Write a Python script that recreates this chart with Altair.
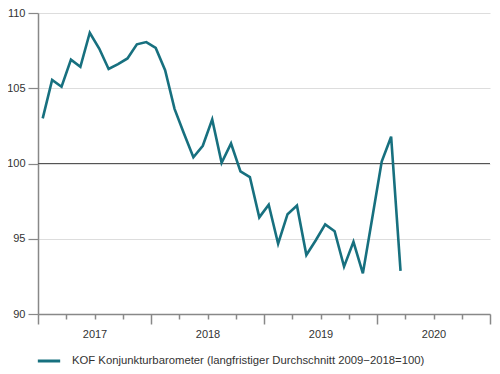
import altair as alt
import pandas as pd

months = pd.date_range("2017-01-01", "2020-03-01", freq="MS").strftime("%Y-%m").tolist()
values = [103.0, 105.55, 105.1, 106.9, 106.43, 108.69, 107.64, 106.28, 106.6, 106.98,
          107.92, 108.07, 107.68, 106.2, 103.63, 101.99, 100.41, 101.18, 102.93, 100.04,
          101.33, 99.47, 99.1, 96.42, 97.26, 94.67, 96.63, 97.2, 93.92, 94.9,
          95.95, 95.5, 93.15, 94.8, 92.7, 96.4, 100.13, 101.78, 92.87]
series_name = "KOF Konjunkturbarometer (langfristiger Durchschnitt 2009\u22122018=100)"
y_ticks = [90, 95, 100, 105, 110]
first_year = 2017
n_years = 4
reference_level = [100]

df = pd.DataFrame({"month": months, "value": values})
df["t"] = [(int(m[:4]) - first_year) * 12 + int(m[5:]) - 1 + 0.5 for m in months]
df["series"] = series_name

quarters = list(range(0, n_years * 12 + 1, 3))
font = "Liberation Sans"
txt = "#333333"
teal = "#17707f"

x_scale = alt.Scale(domain=[0, n_years * 12], nice=False, zero=False)
y_scale = alt.Scale(domain=[90, 110], nice=False, zero=False)

line = alt.Chart(df).mark_line(strokeWidth=2.6, color=teal).encode(
    x=alt.X("t:Q", scale=x_scale, title=None,
            axis=alt.Axis(values=quarters, grid=False, domainColor="#888888", domainWidth=1.5,
                          tickColor="#888888", tickWidth=1.5,
                          tickSize=alt.condition("datum.value % 12 === 0", alt.value(10), alt.value(5)),
                          labelExpr=f"datum.value % 12 === 6 ? '' + ({first_year} + floor(datum.value / 12)) : ''",
                          labelPadding=9, labelFont=font, labelFontSize=11, labelColor=txt,
                          labelFlush=False, labelOverlap=False)),
    y=alt.Y("value:Q", scale=y_scale, title=None,
            axis=alt.Axis(values=y_ticks, gridColor="#dddddd", gridWidth=1.2,
                          domainColor="#888888", domainWidth=1.5,
                          tickColor="#888888", tickSize=10, tickWidth=1.2,
                          labelFont=font, labelFontSize=11, labelColor=txt, labelPadding=3)),
    stroke=alt.Stroke("series:N", scale=alt.Scale(range=[teal]),
                      legend=alt.Legend(title=None, orient="none", legendX=-2, legendY=335,
                                        symbolType="stroke", symbolSize=500, symbolStrokeWidth=3,
                                        labelFont=font, labelFontSize=11.3, labelColor=txt,
                                        labelOffset=10, labelLimit=500)),
)

ref = alt.Chart(pd.DataFrame({"y": reference_level})).mark_rule(color="#555555", strokeWidth=1.2).encode(
    y=alt.Y("y:Q", scale=y_scale)
)

chart = alt.layer(ref, line).properties(
    width=452, height=301,
    padding={"left": 30, "top": 5, "right": 2, "bottom": 58},
    autosize=alt.AutoSizeParams(type="none"),
).configure_view(stroke=None)

chart.save("out.html", embed_options={"renderer": "svg", "actions": False})
